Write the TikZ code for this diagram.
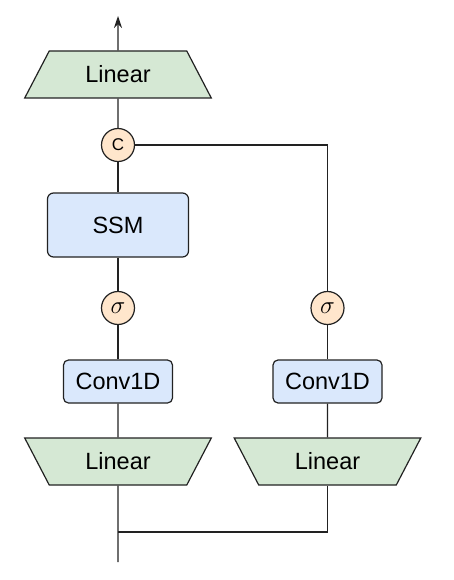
\documentclass[tikz,border=0pt]{standalone}
\usepackage{fontspec}
\setmainfont{Liberation Sans}
\usetikzlibrary{shapes.geometric,arrows.meta}
\definecolor{lingreen}{HTML}{D5E8D4}
\definecolor{boxblue}{HTML}{DAE8FC}
\definecolor{opfill}{HTML}{FFE6CC}
\definecolor{edge}{HTML}{222222}
\tikzset{
  every node/.style={font=\fontsize{23.5}{27}\selectfont, text=black},
  linup/.style={draw=edge, line width=1.2pt, fill=lingreen, shape=trapezium,
    trapezium left angle=56, trapezium right angle=56, trapezium stretches=true,
    minimum width=188pt, minimum height=47pt, inner sep=0pt},
  lindown/.style={linup, trapezium left angle=124, trapezium right angle=124},
  ssmbox/.style={draw=edge, line width=1.2pt, fill=boxblue, rounded corners=6pt,
    minimum width=141pt, minimum height=64pt, inner sep=0pt},
  convbox/.style={draw=edge, line width=1.2pt, fill=boxblue, rounded corners=5pt,
    minimum width=109pt, minimum height=43pt, inner sep=0pt},
  opcirc/.style={draw=edge, line width=1.2pt, fill=opfill, circle,
    minimum size=33pt, inner sep=0pt},
  sigtext/.style={font=\fontsize{26}{28}\selectfont},
  wire/.style={draw=edge, line width=1.2pt},
}
\begin{document}
\begin{tikzpicture}[x=1pt,y=1pt]
\useasboundingbox (0,0) rectangle (453,-580);
\node[linup] (lintop) at (118,-74.5) {Linear};
\node[opcirc, font=\fontsize{17}{19}\selectfont] (cat) at (118,-145) {C};
\node[ssmbox] (ssm) at (118,-225) {SSM};
\node[opcirc, sigtext] (sigl) at (118,-308) {$\sigma$};
\node[opcirc, sigtext] (sigr) at (327.5,-308) {$\sigma$};
\node[convbox] (convl) at (118,-381.5) {Conv1D};
\node[convbox] (convr) at (327.5,-381.5) {Conv1D};
\node[lindown] (linl) at (118,-461.5) {Linear};
\node[lindown] (linr) at (327.5,-461.5) {Linear};
\coordinate (out) at (118,-16);
\coordinate (in) at (118,-562);
\coordinate (join) at (118,-532);
\draw[wire, -{Stealth[length=12pt,width=8pt]}] (lintop.north) -- (out);
\draw[wire] (lintop.south) -- (cat.north);
\draw[wire] (cat.south) -- (ssm.north);
\draw[wire] (cat.east) -| (sigr.north);
\draw[wire] (ssm.south) -- (sigl.north);
\draw[wire] (sigl.south) -- (convl.north);
\draw[wire] (sigr.south) -- (convr.north);
\draw[wire] (convl.south) -- (linl.north);
\draw[wire] (convr.south) -- (linr.north);
\draw[wire] (in) -- (linl.south);
\draw[wire] (linr.south) |- (join);
\end{tikzpicture}
\end{document}
